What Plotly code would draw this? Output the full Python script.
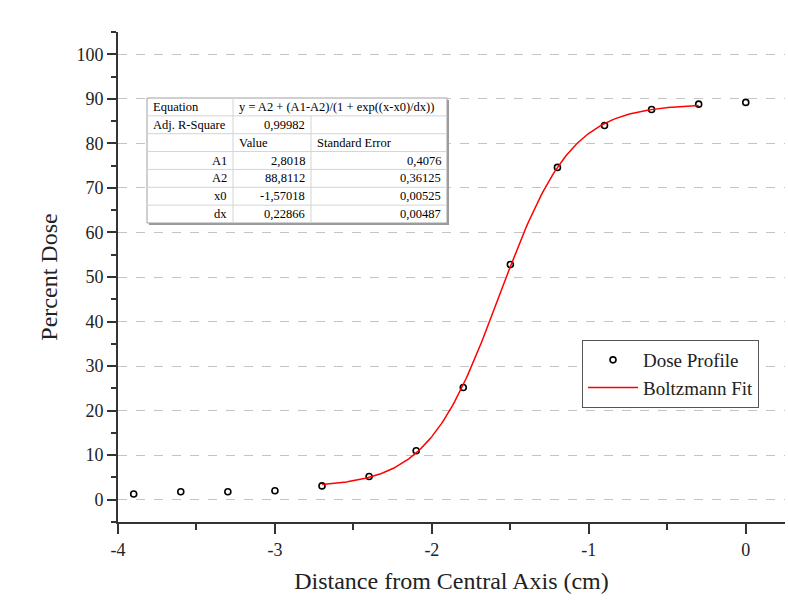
import numpy as np
import plotly.graph_objects as go

# Measured dose profile (distance from central axis in cm, percent dose)
distance_cm = [-3.9, -3.6, -3.3, -3.0, -2.7, -2.4, -2.1, -1.8, -1.5, -1.2, -0.9, -0.6, -0.3, 0.0]
percent_dose = [1.3, 1.8, 1.8, 2.0, 3.1, 5.2, 11.0, 25.2, 52.8, 74.6, 84.0, 87.6, 88.8, 89.2]

# Boltzmann fit parameters (from the fit report)
A1, A2, X0, DX = 2.8018, 88.8112, -1.57018, 0.22866
fit_start, fit_end = -2.7, -0.3

# Fit report table rows: (label, value, standard error)
equation_text = "y = A2 + (A1-A2)/(1 + exp((x-x0)/dx))"
adj_r2_text = "0,99982"
param_names = ["A1", "A2", "x0", "dx"]
param_values = ["2,8018", "88,8112", "-1,57018", "0,22866"]
param_errors = ["0,4076", "0,36125", "0,00525", "0,00487"]

x_ticks = [-4, -3, -2, -1, 0]
x_tick_text = ["-4", "-3", "-2", "-1", "0"]
y_ticks = list(range(0, 101, 10))

FONT = "Liberation Serif, Times New Roman, serif"
INK = "#222222"

# Boltzmann curve evaluated over the fitted span
fit_x = np.linspace(fit_start, fit_end, 200)
fit_y = A2 + (A1 - A2) / (1 + np.exp((fit_x - X0) / DX))

fig = go.Figure()
fig.add_trace(go.Scatter(
    x=distance_cm, y=percent_dose, mode="markers", name="Dose Profile",
    marker=dict(symbol="circle-open", size=6, color="black", line=dict(width=1.6)),
))
fig.add_trace(go.Scatter(
    x=fit_x, y=fit_y, mode="lines", name="Boltzmann Fit",
    line=dict(color="#ff0000", width=1.5),
))

# Plot area geometry in pixels
L, T, W, H = 118, 32, 667, 490


def px(x):
    return (x - L) / W


def py(y):
    return (T + H - y) / H


# Fit report table drawn with shapes and annotations
tx0, tx1, tx2, tx3 = 147, 233, 311, 447
ty0, ty1 = 98, 223
n_rows = 7
row_h = (ty1 - ty0) / n_rows
shapes = []
# drop shadow
shapes.append(dict(type="rect", xref="paper", yref="paper",
                   x0=px(tx0 + 2), x1=px(tx3 + 2), y0=py(ty1 + 2), y1=py(ty0 + 2),
                   line=dict(width=0), fillcolor="#9a9a9a"))
shapes.append(dict(type="rect", xref="paper", yref="paper",
                   x0=px(tx0), x1=px(tx3), y0=py(ty1), y1=py(ty0),
                   line=dict(color="#a0a0a0", width=1), fillcolor="white"))
for k in range(1, n_rows):
    yk = ty0 + k * row_h
    shapes.append(dict(type="line", xref="paper", yref="paper",
                       x0=px(tx0), x1=px(tx3), y0=py(yk), y1=py(yk),
                       line=dict(color="#d4d4d4", width=1)))
shapes.append(dict(type="line", xref="paper", yref="paper",
                   x0=px(tx1), x1=px(tx1), y0=py(ty0), y1=py(ty1),
                   line=dict(color="#d4d4d4", width=1)))
shapes.append(dict(type="line", xref="paper", yref="paper",
                   x0=px(tx2), x1=px(tx2), y0=py(ty0 + row_h), y1=py(ty1),
                   line=dict(color="#d4d4d4", width=1)))

annotations = []


def cell(text, row, x, anchor):
    yc = ty0 + (row + 0.5) * row_h
    annotations.append(dict(text=text, xref="paper", yref="paper",
                            x=px(x), y=py(yc), xanchor=anchor, yanchor="middle",
                            showarrow=False, font=dict(family=FONT, size=12.5, color="black")))


pad = 4
cell("Equation", 0, tx0 + pad, "left")
cell(equation_text, 0, tx1 + pad, "left")
cell("Adj. R-Square", 1, tx0 + pad, "left")
cell(adj_r2_text, 1, tx2 - pad, "right")
cell("Value", 2, tx1 + pad, "left")
cell("Standard Error", 2, tx2 + pad, "left")
for i, (n, v, e) in enumerate(zip(param_names, param_values, param_errors)):
    cell(n, 3 + i, tx1 - pad, "right")
    cell(v, 3 + i, tx2 - pad, "right")
    cell(e, 3 + i, tx3 - pad, "right")

fig.update_layout(
    width=788, height=610,
    margin=dict(l=L, r=788 - L - W, t=T, b=610 - T - H),
    paper_bgcolor="white", plot_bgcolor="white",
    font=dict(family=FONT, color=INK, size=18),
    showlegend=True,
    legend=dict(
        x=px(582), y=py(340), xanchor="left", yanchor="top",
        bordercolor="#555555", borderwidth=1, bgcolor="white",
        font=dict(family=FONT, size=19, color=INK),
        itemwidth=50, tracegroupgap=0,
    ),
    shapes=shapes,
    annotations=annotations,
    xaxis=dict(
        range=[-4, 0.25], tickvals=x_ticks, ticktext=x_tick_text,
        showgrid=False, zeroline=False,
        showline=True, linecolor="#333333", linewidth=2,
        ticks="outside", ticklen=10, tickwidth=2, tickcolor="#333333",
        minor=dict(ticks="outside", ticklen=6, tickwidth=2, tickcolor="#333333", dtick=0.5, tick0=0, showgrid=False),
        tickfont=dict(family=FONT, size=18, color=INK),
        title=dict(text="Distance from Central Axis (cm)", font=dict(family=FONT, size=24, color=INK), standoff=14),
    ),
    yaxis=dict(
        range=[-5, 105], tickvals=y_ticks,
        showgrid=True, gridcolor="#c4c4c4", gridwidth=1, griddash="dash",
        zeroline=False,
        showline=True, linecolor="#333333", linewidth=2,
        ticks="outside", ticklen=9, tickwidth=2, tickcolor="#333333",
        minor=dict(ticks="outside", ticklen=5, tickwidth=2, tickcolor="#333333", dtick=5, tick0=0, showgrid=False),
        tickfont=dict(family=FONT, size=18, color=INK),
        title=dict(text="Percent Dose", font=dict(family=FONT, size=24, color=INK), standoff=12),
    ),
)

fig.write_html("out.html")
